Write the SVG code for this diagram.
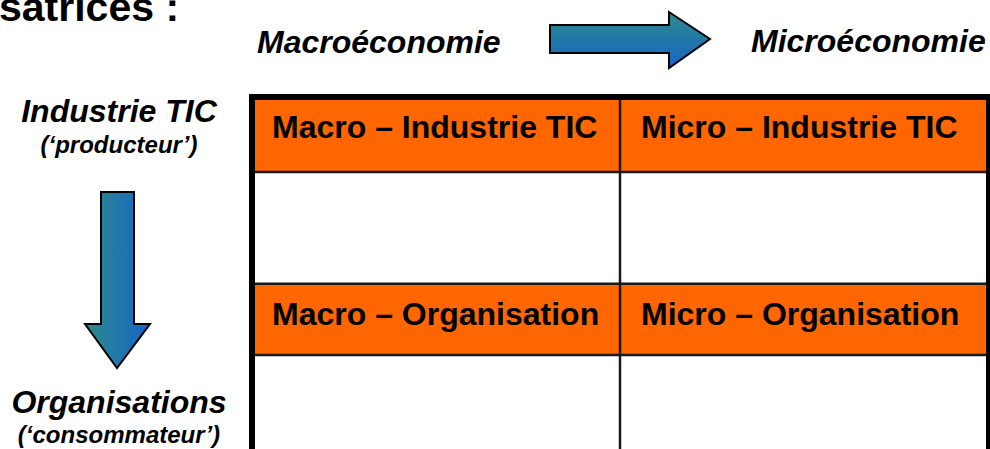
<svg xmlns="http://www.w3.org/2000/svg" width="990" height="449" viewBox="0 0 990 449">
<style>
  .t { font-family: "Liberation Sans", Arial, sans-serif; font-weight: bold; fill: #000; }
  .it { font-style: italic; }
  .big { font-size: 32px; }
  .small { font-size: 24px; }
  .hdr { fill: #ff6600; }
  .grid { stroke: #1a1a1a; stroke-width: 2.5; fill: none; }
  .arrow { stroke: #000; stroke-width: 2; stroke-linejoin: miter; }
</style>
<defs>
  <linearGradient id="gV" x1="0" y1="0" x2="0" y2="1">
    <stop offset="0" stop-color="#2e8a8a"/>
    <stop offset="1" stop-color="#1565c8"/>
  </linearGradient>
  <linearGradient id="gH" x1="0" y1="0" x2="1" y2="0">
    <stop offset="0" stop-color="#2e8a8a"/>
    <stop offset="1" stop-color="#1565c8"/>
  </linearGradient>
</defs>
<rect width="990" height="449" fill="#fff"/>

<text class="t" x="-1" y="21" font-size="41">satrices :</text>

<g id="axis-macro"><text class="t it big" x="257" y="53">Macroéconomie</text></g>
<g id="axis-micro"><text class="t it big" x="751" y="52">Microéconomie</text></g>
<g id="arrow-right">
  <path class="arrow" fill="url(#gV)" d="M550,25 L669,25 L669,12 L710,39 L669,68 L669,53 L550,53 Z"/>
</g>

<g id="label-industrie">
  <text class="t it big" x="119" y="122" text-anchor="middle">Industrie TIC</text>
  <text class="t it small" x="119" y="153" text-anchor="middle">(‘producteur’)</text>
</g>
<g id="arrow-down">
  <path class="arrow" fill="url(#gH)" d="M101,192 L134,192 L134,324 L150,324 L117,368 L85,324 L101,324 Z"/>
</g>
<g id="label-organisations">
  <text class="t it big" x="119" y="413" text-anchor="middle">Organisations</text>
  <text class="t it small" x="119" y="443" text-anchor="middle">(‘consommateur’)</text>
</g>

<g id="table">
  <rect x="252" y="97" width="737" height="380" fill="#fff"/>
  <g id="cell-macro-industrie">
    <rect class="hdr" x="252" y="97" width="368" height="75"/>
    <text class="t big" x="272" y="138">Macro – Industrie TIC</text>
  </g>
  <g id="cell-micro-industrie">
    <rect class="hdr" x="620" y="97" width="369" height="75"/>
    <text class="t big" x="641" y="138">Micro – Industrie TIC</text>
  </g>
  <g id="cell-macro-organisation">
    <rect class="hdr" x="252" y="284" width="368" height="71"/>
    <text class="t big" x="272" y="325">Macro – Organisation</text>
  </g>
  <g id="cell-micro-organisation">
    <rect class="hdr" x="620" y="284" width="369" height="71"/>
    <text class="t big" x="641" y="325">Micro – Organisation</text>
  </g>
  <g id="connectors">
    <line class="grid" x1="252" y1="172" x2="989" y2="172"/>
    <line class="grid" x1="252" y1="283.8" x2="989" y2="283.8"/>
    <line class="grid" x1="252" y1="355" x2="989" y2="355"/>
    <line class="grid" x1="620" y1="97" x2="620" y2="477"/>
  </g>
  <rect x="252" y="97" width="737" height="380" fill="none" stroke="#000" stroke-width="6"/>
</g>
</svg>
